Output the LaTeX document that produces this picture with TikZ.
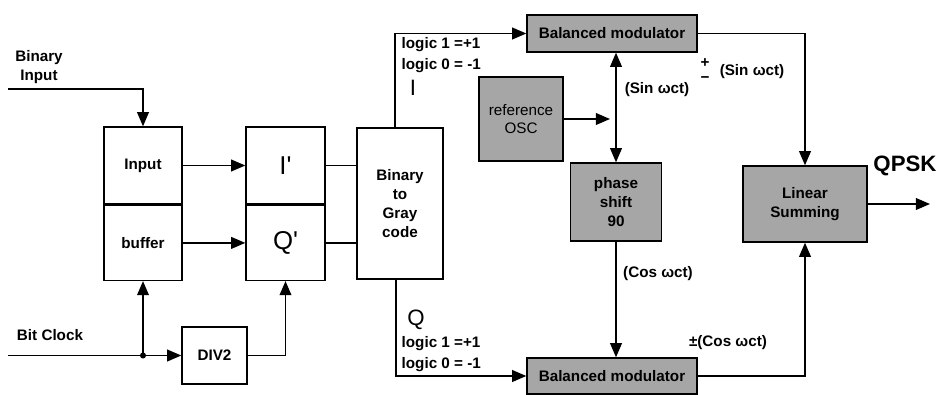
\documentclass[tikz,border=0pt]{standalone}
\usepackage{fontspec}
\setmainfont{Liberation Sans}
\usetikzlibrary{arrows.meta,calc,positioning}

\begin{document}
\begin{tikzpicture}[x=0.03cm,y=-0.03cm,>={Triangle[length=12pt,width=10pt]},line width=1.2pt,
  blk/.style={draw,line width=1.2pt,inner sep=0pt,align=center,font=\bfseries\fontsize{13}{16}\selectfont},
  gblk/.style={blk,fill=black!35},
  lbl/.style={inner sep=0pt,align=left,font=\bfseries\fontsize{13}{18}\selectfont},
  big/.style={font=\fontsize{22}{24}\selectfont}]

\useasboundingbox (0,0) rectangle (943,395);

% ===== INPUT BUFFER AND I'/Q' REGISTERS =====
\node[blk,minimum width=2.34cm,minimum height=2.31cm] (inp) at (143,165.5) {Input};
\node[blk,minimum width=2.34cm,minimum height=2.25cm,anchor=north] (buf) at (inp.south) {buffer};
\node[blk,big,minimum width=2.37cm,minimum height=2.31cm] (ip) at (285.5,165.5) {I\textquotesingle};
\node[blk,big,minimum width=2.37cm,minimum height=2.25cm,anchor=north] (qp) at (ip.south) {Q\textquotesingle};
\node[blk,minimum width=1.95cm,minimum height=1.71cm] (div) at (214.5,355.5) {DIV2};
\node[blk,minimum width=2.58cm,minimum height=4.53cm] (gray) at (400,203.5) {Binary\\to\\Gray\\code};

% ===== CARRIER PATH =====
\node[gblk,minimum width=5.1cm,minimum height=1.11cm] (mod1) at (612,33.5) {Balanced modulator};
\node[gblk,minimum width=5.1cm,minimum height=1.08cm] (mod2) at (612,376) {Balanced modulator};
\node[gblk,minimum width=2.52cm,minimum height=2.52cm,font=\fontsize{13}{16}\selectfont] (osc) at (521,119) {reference\\OSC};
\node[gblk,minimum width=2.73cm,minimum height=2.34cm] (ps) at (616,202) {phase\\shift\\90};
\node[gblk,minimum width=3.72cm,minimum height=2.28cm] (sum) at (805,204) {Linear\\Summing};

% ===== TEXT LABELS =====
\node[lbl,align=center,font=\bfseries\fontsize{13}{16}\selectfont] (binlbl) at (39,67) {Binary\\Input};
\node[lbl] (clklbl) at (50,335) {Bit Clock};
\node[lbl,anchor=west] (ilogic) at (401,55.5) {logic 1 =+1\\logic 0 = -1};
\node[inner sep=0pt,font=\fontsize{19}{21}\selectfont] (ilbl) at (413,88) {I};
\node[inner sep=0pt,font=\fontsize{19}{21}\selectfont] (qlbl) at (416,320) {Q};
\node[lbl,anchor=west] (qlogic) at (401,354) {logic 1 =+1\\logic 0 = -1};
\node[lbl] (sin1) at (657,90) {(Sin ωct)};
\node[lbl] (plus) at (705,63) {+};
\node[lbl] (minus) at (705,80) {−};
\node[lbl] (sin2) at (752,72) {(Sin ωct)};
\node[lbl] (cos1) at (658,274) {(Cos ωct)};
\node[lbl] (cos2) at (728,343) {±(Cos ωct)};
\node[inner sep=0pt,font=\bfseries\fontsize{19}{21}\selectfont] (qpsk) at (905,166) {QPSK};

% ===== CONNECTORS =====
\coordinate (binin) at (8,89);
\coordinate (clkin) at (8,355.5);
\coordinate (clkdot) at (buf.south |- clkin);
\coordinate (tap) at (610,119);
\coordinate (qpskout) at (930,204);

\draw[->] (binin) -| (inp.north);
\draw[->] (clkin) -- (div.west);
\fill (clkdot) circle (2.6pt);
\draw[->] (clkdot) -- (buf.south);
\draw[->] (div.east) -| (qp.south);
\draw[->] (inp.east) -- (ip.west);
\draw[->] (buf.east) -- (qp.west);
\draw (ip.east) -- (ip.east -| gray.west);
\draw (qp.east) -- (qp.east -| gray.west);

\draw[->] ($(gray.north)+(-5,0)$) |- (mod1.west);
\draw[->] ($(gray.south)+(-4,0)$) |- (mod2.west);

\draw[->] (osc.east) -- (tap);
\draw[<->] (mod1.south -| ps.north) -- (ps.north);
\draw[->] (ps.south) -- (ps.south |- mod2.north);
\draw[->] (mod1.east) -| (sum.north);
\draw[->] (mod2.east) -| (sum.south);
\draw[->] (sum.east) -- (qpskout);

\end{tikzpicture}
\end{document}
